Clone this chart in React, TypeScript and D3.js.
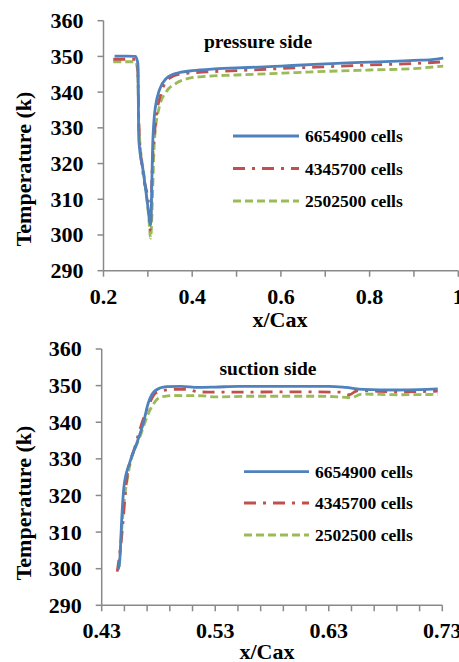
import React from "react";
import * as d3 from "d3";

// ---------- DATA ----------
const seriesNames = ["6654900 cells", "4345700 cells", "2502500 cells"];
const yTicks = [290, 300, 310, 320, 330, 340, 350, 360];

// pressure side
const pXTickLabels = [0.2, 0.4, 0.6, 0.8, 1];
const pXMinorTicks = [0.2, 0.3, 0.4, 0.5, 0.6, 0.7, 0.8, 0.9, 1.0];
const pBlueX = [0.225, 0.25, 0.272, 0.2775, 0.2797, 0.29, 0.2985, 0.3039, 0.3061, 0.3113, 0.3152, 0.326, 0.342, 0.357, 0.372, 0.4, 0.45, 0.5, 0.55, 0.6, 0.65, 0.7, 0.75, 0.8, 0.85, 0.9, 0.94, 0.966];
const pBlueY = [350.1, 350.1, 350.0, 348.0, 326.5, 317.5, 309.5, 304.2, 302.8, 326.6, 334.0, 340.6, 343.9, 345.0, 345.5, 346.0, 346.5, 346.8, 347.0, 347.3, 347.6, 347.9, 348.2, 348.4, 348.6, 348.9, 349.1, 349.5];
const pRedX = [0.222, 0.25, 0.272, 0.277, 0.28, 0.289, 0.302, 0.305, 0.31, 0.319, 0.33, 0.349, 0.375, 0.4, 0.5, 0.6, 0.7, 0.8, 0.9, 0.966];
const pRedY = [349.2, 349.2, 349.2, 347.5, 330.0, 317.3, 307.9, 301.4, 319.1, 333.1, 339.7, 343.9, 345.1, 345.4, 346.0, 346.6, 347.1, 347.6, 348.0, 348.5];
const pGreenX = [0.222, 0.25, 0.272, 0.277, 0.28, 0.292, 0.302, 0.306, 0.315, 0.326, 0.342, 0.364, 0.394, 0.417, 0.5, 0.6, 0.7, 0.8, 0.9, 0.966];
const pGreenY = [348.5, 348.5, 348.5, 346.0, 330.0, 316.0, 305.0, 299.1, 326.6, 335.9, 340.2, 342.5, 343.9, 344.3, 344.8, 345.3, 345.8, 346.2, 346.6, 347.3];

// suction side
const sXTickLabels = [0.43, 0.53, 0.63, 0.73];
const sXMinorTicks = [0.43, 0.45, 0.47, 0.49, 0.51, 0.53, 0.55, 0.57, 0.59, 0.61, 0.63, 0.65, 0.67, 0.69, 0.71, 0.73];
const sBlueX = [0.4446, 0.4461, 0.4476, 0.4496, 0.4549, 0.4608, 0.4666, 0.471, 0.477, 0.487, 0.5, 0.515, 0.53, 0.55, 0.6, 0.63, 0.645, 0.66, 0.69, 0.71, 0.726];
const sBlueY = [299.8, 303.3, 313.3, 322.4, 329.2, 334.2, 339.7, 345.2, 348.6, 349.7, 349.8, 349.5, 349.6, 349.8, 349.8, 349.8, 349.5, 349.0, 348.8, 348.9, 349.1];
const sRedX = [0.4437, 0.4476, 0.452, 0.4593, 0.4696, 0.4784, 0.4931, 0.505, 0.515, 0.53, 0.6, 0.64, 0.648, 0.655, 0.69, 0.726];
const sRedY = [299.2, 308.8, 324.2, 333.3, 343.3, 348.1, 349.0, 349.0, 348.3, 348.2, 348.3, 348.2, 347.5, 348.6, 348.3, 348.5];
const sGreenX = [0.4455, 0.449, 0.4534, 0.4637, 0.4725, 0.4813, 0.4931, 0.52, 0.53, 0.56, 0.62, 0.645, 0.65, 0.659, 0.69, 0.726];
const sGreenY = [300.5, 316.0, 326.0, 336.0, 343.3, 346.8, 347.3, 347.2, 346.9, 347.1, 347.1, 346.8, 346.7, 347.7, 347.5, 347.6];

// ---------- STYLE ----------
const COLORS = ["#4F81BD", "#C0504D", "#9BBB59"];
const DASHES = ["none", "12,7,3,7", "8,4"];
const AXIS = "#898989";
const txt = (size: number): React.CSSProperties => ({ fontFamily: "Liberation Serif", fontWeight: 700, fontSize: size + "px" });

type Panel = {
  title: string;
  xDomain: [number, number];
  xRange: [number, number];
  yRange: [number, number];
  xLabels: number[];
  xTicks: number[];
  fmt: (v: number) => string;
  series: { x: number[]; y: number[] }[];
  titlePos: [number, number];
  legend: { x1: number; x2: number; ys: number[] };
  xTitle: [number, number];
  xLabelBase: number;
  yTitleCenter: number;
};

const panels: Panel[] = [
  {
    title: "pressure side",
    xDomain: [0.2, 1],
    xRange: [103.5, 458.3],
    yRange: [270.7, 20.7],
    xLabels: pXTickLabels,
    xTicks: pXMinorTicks,
    fmt: (v) => (v === 1 ? "1" : v.toFixed(1)),
    series: [
      { x: pBlueX, y: pBlueY },
      { x: pRedX, y: pRedY },
      { x: pGreenX, y: pGreenY },
    ],
    titlePos: [258, 48],
    legend: { x1: 233, x2: 299, ys: [136, 168.5, 201] },
    xTitle: [280, 327],
    xLabelBase: 304,
    yTitleCenter: 169,
  },
  {
    title: "suction side",
    xDomain: [0.43, 0.73],
    xRange: [101.7, 442.3],
    yRange: [605.3, 349],
    xLabels: sXTickLabels,
    xTicks: sXMinorTicks,
    fmt: (v) => v.toFixed(2),
    series: [
      { x: sBlueX, y: sBlueY },
      { x: sRedX, y: sRedY },
      { x: sGreenX, y: sGreenY },
    ],
    titlePos: [268, 375],
    legend: { x1: 244, x2: 309, ys: [471.7, 503, 535] },
    xTitle: [267, 659],
    xLabelBase: 638,
    yTitleCenter: 503,
  },
];

function PanelView({ p }: { p: Panel }) {
  const x = d3.scaleLinear().domain(p.xDomain).range(p.xRange);
  const y = d3.scaleLinear().domain([290, 360]).range(p.yRange);
  const x0 = p.xRange[0];
  const yb = p.yRange[0];
  return (
    <g>
      <line x1={x0} x2={x0} y1={p.yRange[1]} y2={yb} stroke={AXIS} strokeWidth={1.5} />
      <line x1={x0} x2={p.xRange[1]} y1={yb} y2={yb} stroke={AXIS} strokeWidth={1.5} />
      {yTicks.map((t) => (
        <g key={"y" + t}>
          <line x1={x0 - 6} x2={x0} y1={y(t)} y2={y(t)} stroke={AXIS} strokeWidth={1.5} />
          <text x={x0 - 20} y={y(t)} dy="0.34em" textAnchor="end" style={txt(22)} fill="#000">
            {t}
          </text>
        </g>
      ))}
      {p.xTicks.map((t) => (
        <line key={"xt" + t} x1={x(t)} x2={x(t)} y1={yb} y2={yb + 6} stroke={AXIS} strokeWidth={1.5} />
      ))}
      {p.xLabels.map((t) => (
        <text key={"xl" + t} x={x(t)} y={p.xLabelBase} textAnchor="middle" style={txt(22)} fill="#000">
          {p.fmt(t)}
        </text>
      ))}
      {p.series
        .map((s, i) => {
          const pts = s.x.map((v, k) => [v, s.y[k]] as [number, number]);
          const line = d3
            .line<[number, number]>()
            .x((d) => x(d[0]))
            .y((d) => y(d[1]))
            .curve(d3.curveMonotoneX);
          return (
            <path key={"s" + i} d={line(pts) || ""} fill="none" stroke={COLORS[i]} strokeWidth={2.8} strokeDasharray={DASHES[i]} strokeLinejoin="round" />
          );
        })
        .reverse()}
      <text x={p.titlePos[0]} y={p.titlePos[1]} textAnchor="middle" style={txt(19.5)} fill="#000">
        {p.title}
      </text>
      {seriesNames.map((n, i) => (
        <g key={"lg" + i}>
          <line x1={p.legend.x1} x2={p.legend.x2} y1={p.legend.ys[i]} y2={p.legend.ys[i]} stroke={COLORS[i]} strokeWidth={2.8} strokeDasharray={DASHES[i]} />
          <text x={p.legend.x2 + 6} y={p.legend.ys[i]} dy="0.35em" style={txt(17.5)} fill="#000">
            {n}
          </text>
        </g>
      ))}
      <text x={p.xTitle[0]} y={p.xTitle[1]} textAnchor="middle" style={txt(22)} fill="#000">
        x/Cax
      </text>
      <text transform={`translate(31,${p.yTitleCenter}) rotate(-90)`} textAnchor="middle" style={txt(22)} fill="#000">
        Temperature (k)
      </text>
    </g>
  );
}

export default function App() {
  return (
    <svg width={459} height={662} style={{ position: "absolute", left: 0, top: 0, background: "#fff" }}>
      <rect x={0} y={0} width={459} height={662} fill="#fff" />
      {panels.map((p, i) => (
        <PanelView key={i} p={p} />
      ))}
    </svg>
  );
}
